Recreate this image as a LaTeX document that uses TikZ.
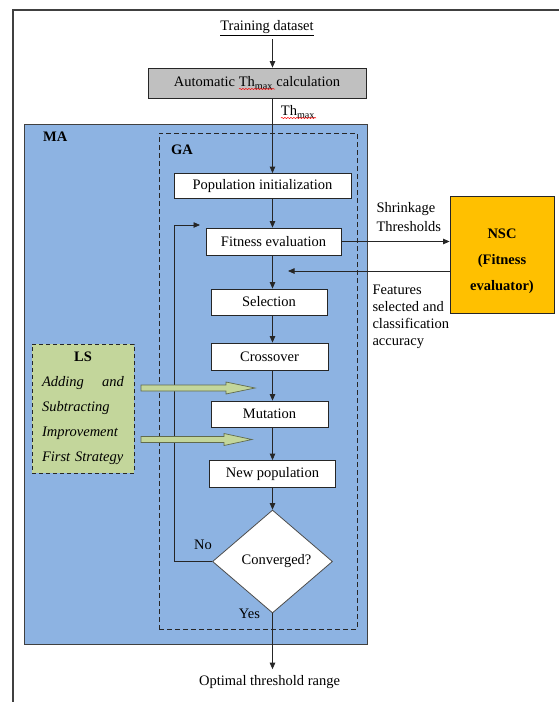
\documentclass[tikz,border=0pt]{standalone}
\usepackage{fontspec}
\setmainfont{Liberation Serif}
\usetikzlibrary{shapes.geometric,arrows.meta,decorations.pathmorphing}
\definecolor{mablue}{HTML}{8DB3E2}
\definecolor{lsgreen}{HTML}{C3D69B}
\definecolor{nscorange}{HTML}{FFC000}
\definecolor{autogray}{HTML}{C0C0C0}
\definecolor{framegray}{HTML}{404040}
\begin{document}
\begin{tikzpicture}[x=1pt,y=-1pt,
  every node/.style={font=\fontsize{14.5}{17}\selectfont},
  box/.style={draw=black!85, line width=0.8pt, fill=white, inner sep=0pt},
  arr/.style={-{Triangle[length=6.5pt,width=5.5pt]}, line width=0.8pt, draw=black!85},
  blockarrow/.style={fill=lsgreen, draw=black!50!lsgreen, line width=0.7pt},
  squiggle/.style={red, line width=0.5pt, decorate, decoration={snake, amplitude=0.6pt, segment length=3pt}},
  lbl/.style={inner sep=0pt}
]
\useasboundingbox (0,0) rectangle (559,702);
% page frame
\draw[framegray, line width=1.2pt] (13,702) -- (13,10) -- (559,10);

% MA and GA containers
\node[draw=framegray, line width=1pt, fill=mablue, minimum width=343pt, minimum height=520pt, inner sep=0pt] (ma) at (195.5,384) {};
\node[draw=black!85, line width=1pt, dash pattern=on 5pt off 3pt, minimum width=198pt, minimum height=496pt, inner sep=0pt] (ga) at (258,381) {};
\node[anchor=west, font=\bfseries\fontsize{14.5}{17}\selectfont, lbl] (malbl) at (43,137) {MA};
\node[anchor=west, font=\bfseries\fontsize{14.5}{17}\selectfont, lbl] (galbl) at (171,150) {GA};

\coordinate (spine) at (272.5,0);

% nodes
\node (train) at (267,28) {\underline{Training dataset}};
\node[box, fill=autogray, minimum width=218pt, minimum height=30pt] (auto) at (257,83) {Automatic Th\textsubscript{max} calculation};
\node[lbl] (thlab) at (298,112) {Th\textsubscript{max}};
\node[box, minimum width=177pt, minimum height=25pt] (pop) at (262.5,186) {Population initialization};
\node[box, minimum width=135pt, minimum height=27pt] (fit) at (273.5,241.5) {Fitness evaluation};
\node[box, minimum width=116pt, minimum height=26pt] (sel) at (269,302) {Selection};
\node[box, minimum width=117pt, minimum height=27pt] (cross) at (269.5,356.5) {Crossover};
\node[box, minimum width=117pt, minimum height=26pt] (mut) at (269.5,414) {Mutation};
\node[box, minimum width=126pt, minimum height=27pt] (newpop) at (272.5,474) {New population};
\node[diamond, draw=black!70, line width=0.8pt, fill=white, minimum width=120pt, minimum height=103pt, inner sep=0pt] (dia) at (272.5,561.5) {\hspace*{8pt}Converged?};
\node[inner sep=6pt] (out) at (269.5,682) {Optimal threshold range};
\node[lbl] (no) at (203,545) {No};
\node[lbl] (yes) at (249.5,614) {Yes};

\node[draw=black!85, line width=0.8pt, fill=nscorange, minimum width=104pt, minimum height=117pt] (nsc) at (502,254.5) {};
\node[align=center, font=\bfseries\fontsize{14.5}{26}\selectfont] (nsctext) at (502,261) {NSC\\(Fitness\\evaluator)};
\node[anchor=west, align=left, font=\fontsize{14.5}{19}\selectfont] (shr) at (373,217) {Shrinkage\\Thresholds};
\node[anchor=west, align=left, font=\fontsize{14.5}{17}\selectfont] (feat) at (369,317) {Features\\selected and\\classification\\accuracy};

\node[draw=black!85, line width=1pt, dash pattern=on 4pt off 3pt, fill=lsgreen, minimum width=102pt, minimum height=129pt, text width=82pt, align=left, inner sep=0pt, font=\fontsize{14.5}{25}\selectfont] (ls) at (83,408.5)
  {\hfill\textbf{LS}\hfill\null\\\textit{Adding\hfill and}\\\textit{Subtracting}\\\textit{Improvement}\\\textit{First Strategy}};

% connectors
\coordinate (ret) at (288,271);
\coordinate (loopx) at (174,225);
\coordinate (loopend) at (200,225);
\draw[arr] (train.south -| spine) -- (auto.north -| spine);
\draw[arr] (auto.south -| spine) -- (pop.north -| spine);
\draw[arr] (pop.south -| spine) -- (fit.north -| spine);
\draw[arr] (fit.south -| spine) -- (sel.north -| spine);
\draw[arr] (sel.south -| spine) -- (cross.north -| spine);
\draw[arr] (cross.south -| spine) -- (mut.north -| spine);
\draw[arr] (mut.south -| spine) -- (newpop.north -| spine);
\draw[arr] (newpop.south -| spine) -- (dia.north);
\draw[arr] (dia.south) -- (out.north -| dia.south);
\draw[arr] (dia.west) -| (loopx) -- (loopend);
\draw[arr] (fit.east) -- (fit.east -| nsc.west);
\draw[arr] (ret -| nsc.west) -- (ret);

% LS block arrows
\draw[blockarrow] (141,385) -- (226,385) -- (226,382) -- (255,388) -- (226,394) -- (226,391) -- (141,391) -- cycle;
\draw[blockarrow] (141,436.5) -- (224,436.5) -- (224,433.5) -- (252,439.5) -- (224,445.5) -- (224,442.5) -- (141,442.5) -- cycle;

% spell-check squiggles
\draw[squiggle] (239,89) -- (275,89);
\draw[squiggle] (281,118) -- (316,118);
\end{tikzpicture}
\end{document}
